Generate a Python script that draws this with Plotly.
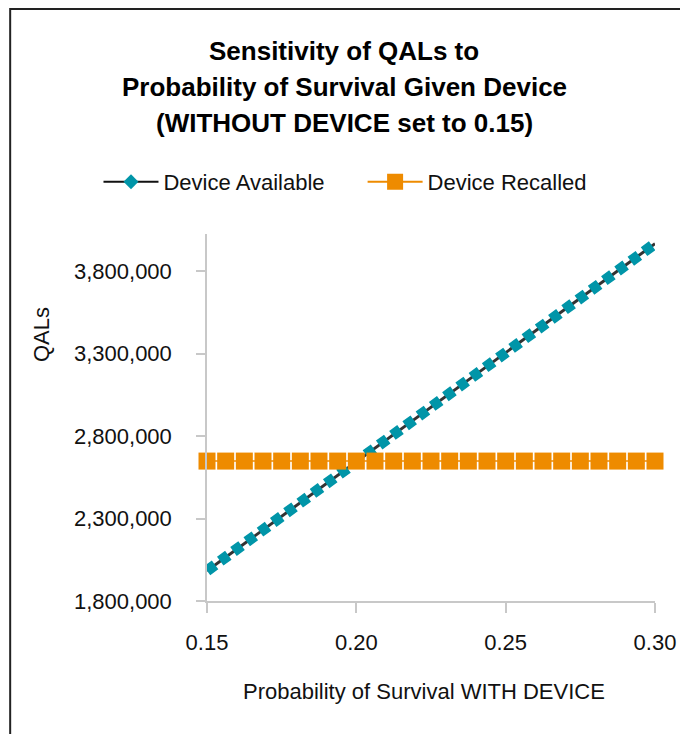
import plotly.graph_objects as go

# ---- data ----
prob_with_device = [0.15, 0.15625, 0.1625, 0.16875, 0.175, 0.18125, 0.1875, 0.19375,
                    0.2, 0.20625, 0.2125, 0.21875, 0.225, 0.23125, 0.2375, 0.24375,
                    0.25, 0.25625, 0.2625, 0.26875, 0.275, 0.28125, 0.2875, 0.29375, 0.30]
qals_available = [1983000, 2065600, 2148300, 2230900, 2313500, 2396100, 2478800, 2561400,
                  2644000, 2726600, 2809300, 2891900, 2974500, 3057100, 3139800, 3222400,
                  3305000, 3387600, 3470300, 3552900, 3635500, 3718100, 3800800, 3883400, 3966000]
qals_recalled = [2648000] * 25
y_ticks = [1800000, 2300000, 2800000, 3300000, 3800000]
x_ticks = [0.15, 0.20, 0.25, 0.30]
series_names = ["Device Available", "Device Recalled"]
title_lines = ["Sensitivity of QALs to",
               "Probability of Survival Given Device",
               "(WITHOUT DEVICE set to 0.15)"]

# ---- style / layout ----
OFF = 8  # page body margin
W, H = 688 - OFF, 734 - OFF
PLOT_L, PLOT_R, PLOT_T, PLOT_B = 206.7, 656.7, 234.0, 601.0   # target screen coords
L = PLOT_L - OFF
R = W - (PLOT_R - OFF)
T = PLOT_T - OFF
B = H - (PLOT_B - OFF)
PW, PH = PLOT_R - PLOT_L, PLOT_B - PLOT_T
PX_PER_MILLION = 165.0
FONT = "Liberation Sans, Arial, Helvetica, sans-serif"
TEAL = "#0095A8"
ORANGE = "#EE8B00"
DARK = "#333333"
AXIS = "#C8C8C8"
TXT = "#111111"

def px(x):
    return (x - PLOT_L) / PW

def py(y):
    return (PLOT_B - y) / PH

fig = go.Figure()

# Device Available: dark line with thick teal dashes on top
fig.add_trace(go.Scatter(x=prob_with_device, y=qals_available, mode="lines",
                         line=dict(color=DARK, width=3), showlegend=False,
                         cliponaxis=False, hoverinfo="skip"))
fig.add_trace(go.Scatter(x=prob_with_device, y=qals_available, mode="lines",
                         line=dict(color=TEAL, width=11, dash="10px,6.4px"),
                         showlegend=False, cliponaxis=False, name=series_names[0]))
# Device Recalled: thin orange line with square markers
fig.add_trace(go.Scatter(x=prob_with_device, y=qals_recalled, mode="lines+markers",
                         line=dict(color=ORANGE, width=1.5),
                         marker=dict(symbol="square", size=17, color=ORANGE, line=dict(width=0)),
                         showlegend=False, cliponaxis=False, name=series_names[1]))
# legend entries
fig.add_trace(go.Scatter(x=[None], y=[None], mode="lines+markers", name=series_names[0],
                         line=dict(color="#111111", width=2), legend="legend",
                         marker=dict(symbol="diamond", size=11.5, color=TEAL, line=dict(width=0))))
fig.add_trace(go.Scatter(x=[None], y=[None], mode="lines+markers", name=series_names[1],
                         line=dict(color=ORANGE, width=2), legend="legend2",
                         marker=dict(symbol="square", size=16, color=ORANGE, line=dict(width=0))))

annotations = []
for txt, yc in zip(title_lines, [50.5, 87, 123.5]):
    annotations.append(dict(text="<b>%s</b>" % txt, x=px(344.5), y=py(yc), xref="paper", yref="paper",
                            xanchor="center", yanchor="middle", showarrow=False,
                            font=dict(family=FONT, size=26, color="#000000")))
annotations.append(dict(text="QALs", x=px(40), y=py(335), xref="paper", yref="paper",
                        xanchor="center", yanchor="middle", textangle=-90, showarrow=False,
                        font=dict(family=FONT, size=22, color=TXT)))
annotations.append(dict(text="Probability of Survival WITH DEVICE", x=px(425), y=py(691),
                        xref="paper", yref="paper", xanchor="center", yanchor="middle",
                        showarrow=False, font=dict(family=FONT, size=22, color=TXT)))

legend_common = dict(orientation="h", yanchor="middle", xanchor="left",
                     font=dict(family=FONT, size=22, color=TXT), itemwidth=55,
                     bgcolor="rgba(0,0,0,0)")

fig.update_layout(
    width=W, height=H,
    margin=dict(l=L, r=R, t=T, b=B, pad=0),
    paper_bgcolor="white", plot_bgcolor="white",
    font=dict(family=FONT, size=22, color=TXT),
    showlegend=True,
    legend=dict(x=px(97.7), y=py(182), **legend_common),
    legend2=dict(x=px(363), y=py(182), **legend_common),
    annotations=annotations,
    shapes=[dict(type="rect", xref="paper", yref="paper",
                 x0=px(9), x1=px(720), y0=py(760), y1=py(9),
                 line=dict(color="#222222", width=2), fillcolor="rgba(0,0,0,0)", layer="below")],
    xaxis=dict(range=[0.15, 0.30], tickvals=x_ticks, tickformat=".2f",
               showline=True, linecolor=AXIS, linewidth=1.5, showgrid=False, zeroline=False,
               ticks="outside", ticklen=10, tickwidth=1.5, tickcolor=AXIS,
               ticklabelstandoff=11, tickfont=dict(family=FONT, size=22, color=TXT)),
    yaxis=dict(range=[1800000, 1800000 + (PH / PX_PER_MILLION) * 1000000], tickvals=y_ticks,
               tickformat=",.0f",
               showline=True, linecolor=AXIS, linewidth=1.5, showgrid=False, zeroline=False,
               ticks="outside", ticklen=9, tickwidth=1.5, tickcolor=AXIS,
               ticklabelstandoff=20, tickfont=dict(family=FONT, size=22, color=TXT)),
)

fig.write_html("out.html")
